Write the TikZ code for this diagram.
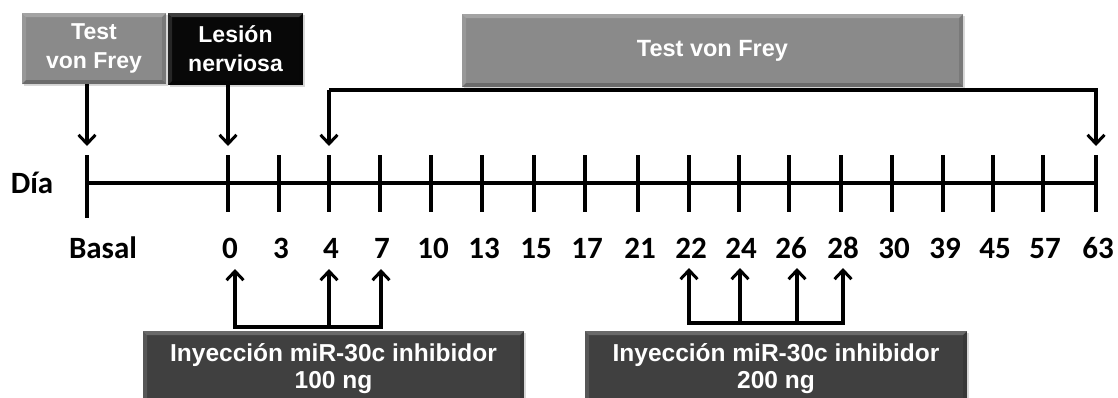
\documentclass[tikz,border=0pt]{standalone}
\usepackage{fontspec}
\setmainfont{Liberation Sans}
\newfontfamily\calib{Carlito}
\usetikzlibrary{arrows.meta,shadows,calc}
\definecolor{boxgray}{HTML}{8A8A8A}
\definecolor{boxdark}{HTML}{404040}
\definecolor{boxblack}{HTML}{080808}
\tikzset{
  bevelfx/.style={path picture={
    \fill[white,opacity=0.22] (path picture bounding box.north west) -- (path picture bounding box.north east)
      -- ([xshift=-4pt,yshift=-4pt]path picture bounding box.north east) -- ([xshift=4pt,yshift=-4pt]path picture bounding box.north west) -- cycle;
    \fill[white,opacity=0.12] (path picture bounding box.north west) -- (path picture bounding box.south west)
      -- ([xshift=4pt,yshift=4pt]path picture bounding box.south west) -- ([xshift=4pt,yshift=-4pt]path picture bounding box.north west) -- cycle;
    \fill[black,opacity=0.22] (path picture bounding box.south west) -- (path picture bounding box.south east)
      -- ([xshift=-4pt,yshift=4pt]path picture bounding box.south east) -- ([xshift=4pt,yshift=4pt]path picture bounding box.south west) -- cycle;
    \fill[black,opacity=0.12] (path picture bounding box.north east) -- (path picture bounding box.south east)
      -- ([xshift=-4pt,yshift=4pt]path picture bounding box.south east) -- ([xshift=-4pt,yshift=-4pt]path picture bounding box.north east) -- cycle;
  }},
  panel/.style={rectangle, inner sep=0pt, text=white, align=center, bevelfx,
    drop shadow={shadow xshift=1.5pt, shadow yshift=-1.5pt, opacity=0.3}},
  graybox/.style={panel, fill=boxgray},
  blackbox/.style={panel, fill=boxblack},
  darkbox/.style={panel, fill=boxdark},
  arr/.style={line width=3.2pt, line join=miter, -{Straight Barb[length=9pt,width=17pt,line width=3pt]}},
  tickln/.style={line width=3.4pt},
  axlab/.style={font=\calib\bfseries\fontsize{31}{32}\selectfont, anchor=base, inner sep=0pt},
}
\begin{document}
\begin{tikzpicture}[x=1pt,y=-1pt]
\useasboundingbox (0,0) rectangle (1118,397);

% top boxes
\node[graybox, minimum width=144pt, minimum height=71pt,
  font=\bfseries\fontsize{23}{29}\selectfont] (vf1) at (94,48.5) {Test\\von Frey};
\node[blackbox, minimum width=135pt, minimum height=72pt,
  font=\bfseries\fontsize{23}{29}\selectfont] (les) at (235.5,49) {Lesión\\nerviosa};
\node[graybox, minimum width=501pt, minimum height=73pt,
  font=\bfseries\fontsize{23.5}{26}\selectfont] (vf2) at (712.5,50.5) {Test von Frey};

% axis
\node[font=\calib\bfseries\fontsize{31}{32}\selectfont, inner sep=0pt] (dia) at (32,183) {Día};
\coordinate (tB) at (87,183);
\coordinate (tBtop) at (87,155);
\draw[tickln] (87,155) -- (87,218);
\node[axlab] (lB) at (103,258) {Basal};
\foreach \n/\x in {0/228,3/279,4/329,7/380,10/431,13/482,15/534,17/585,21/638,22/689,24/739,26/789,28/841,30/892,39/943,45/993,57/1043,63/1096}{
  \coordinate (t\n) at (\x,183);
  \coordinate (t\n top) at (\x,155);
  \draw[tickln] (\x,155) -- (\x,212);
  \node[axlab] (l\n) at ($(\x,258)+(2,0)$) {\n};
}
\draw[tickln] (tB) -- (t63);

% top arrows
\draw[arr] (vf1.south -| tBtop) -- ([yshift=9pt]tBtop);
\draw[arr] (les.south -| t0top) -- ([yshift=9pt]t0top);
\coordinate (brL) at (329,90);
\coordinate (brR) at (1096,90);
\draw[arr] (brL) -- ([yshift=9pt]t4top);
\draw[arr] (brL) -- (brR) -- ([yshift=9pt]t63top);

% bottom boxes
\node[darkbox, minimum width=381pt, minimum height=76pt,
  font=\bfseries\fontsize{24.5}{27}\selectfont] (inj1) at (333.5,369) {Inyección miR-30c inhibidor\\100 ng};
\node[darkbox, minimum width=382pt, minimum height=76pt,
  font=\bfseries\fontsize{24.5}{27}\selectfont] (inj2) at (776,369) {Inyección miR-30c inhibidor\\200 ng};

% bottom brackets
\coordinate (b0) at (235,327);
\coordinate (b4) at (329,327);
\coordinate (b7) at (381,327);
\coordinate (b22) at (689,323);
\coordinate (b24) at (740,323);
\coordinate (b26) at (797,323);
\coordinate (b28) at (843,323);
\draw[tickln] ([xshift=-1.6pt]b0) -- ([xshift=1.6pt]b7);
\draw[tickln] ([xshift=-1.6pt]b22) -- ([xshift=1.6pt]b28);
\foreach \b in {b0,b4,b7}{
  \draw[arr] (\b) -- ([yshift=58pt]\b);
}
\foreach \b in {b22,b24,b26,b28}{
  \draw[arr] (\b) -- ([yshift=55pt]\b);
}
\end{tikzpicture}
\end{document}
